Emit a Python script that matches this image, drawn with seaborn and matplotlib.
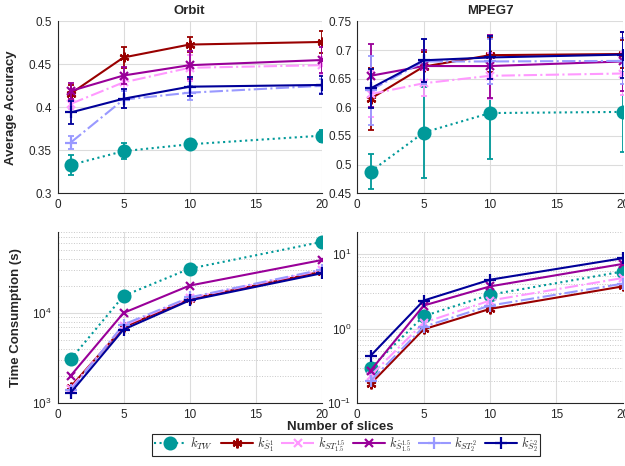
import numpy as np
import matplotlib
matplotlib.use("Agg")
import matplotlib.pyplot as plt
from matplotlib.lines import Line2D
from matplotlib.ticker import FormatStrFormatter, NullFormatter, LogLocator
import seaborn as sns

#Data
slices = [1, 5, 10, 20]
labels = [r'$k_{TW}$', r'$k_{\hat{S}_1^1}$', r'$k_{ST_{1.5}^{1.5}}$',
          r'$k_{\hat{S}_{1.5}^{1.5}}$', r'$k_{ST_2^2}$', r'$k_{\hat{S}_2^2}$']

#Orbit accuracy (mean, error)
orbit_acc = [[0.333, 0.349, 0.357, 0.367],
             [0.416, 0.458, 0.473, 0.476],
             [0.404, 0.429, 0.446, 0.449],
             [0.419, 0.437, 0.449, 0.455],
             [0.359, 0.409, 0.417, 0.425],
             [0.394, 0.410, 0.424, 0.426]]
orbit_err = [[0.012, 0.009, 0.005, 0.007],
             [0.010, 0.012, 0.009, 0.013],
             [0.006, 0.008, 0.015, 0.010],
             [0.009, 0.010, 0.016, 0.015],
             [0.008, 0.010, 0.008, 0.008],
             [0.013, 0.011, 0.011, 0.011]]

#MPEG7 accuracy
mpeg_acc = [[0.488, 0.556, 0.590, 0.592],
            [0.615, 0.671, 0.691, 0.693],
            [0.623, 0.642, 0.655, 0.659],
            [0.655, 0.672, 0.672, 0.680],
            [0.630, 0.680, 0.680, 0.681],
            [0.633, 0.682, 0.687, 0.692]]
mpeg_err = [[0.031, 0.079, 0.081, 0.070],
            [0.054, 0.026, 0.030, 0.025],
            [0.040, 0.023, 0.040, 0.038],
            [0.055, 0.028, 0.055, 0.052],
            [0.060, 0.040, 0.040, 0.040],
            [0.034, 0.037, 0.038, 0.040]]

#Time consumption (s)
orbit_time = [[3085, 15600, 31300, 62000],
              [1528, 7000, 14400, 29000],
              [1460, 7300, 14800, 30000],
              [2027, 10100, 20300, 39000],
              [1400, 7500, 15000, 30500],
              [1312, 6600, 13900, 27800]]
mpeg_time = [[0.297, 1.47, 2.85, 5.82],
             [0.182, 0.98, 1.84, 3.68],
             [0.235, 1.20, 2.38, 4.76],
             [0.274, 2.04, 3.68, 7.36],
             [0.200, 1.06, 2.04, 4.00],
             [0.433, 2.38, 4.52, 8.77]]

#Line styles per method
colors = ['#009999', '#990000', '#ff99ff', '#990099', '#9999ff', '#000099']
styles = [':', '-', '-.', '-', '-.', '-']
markers = ['o', (6, 2, 0), 'x', 'x', '+', '+']
msizes = [8.5, 7, 6, 6, 8, 8]

sns.set_style("white")
plt.rcParams['font.family'] = ['Liberation Sans', 'DejaVu Sans']
plt.rcParams['mathtext.fontset'] = 'cm'

fig = plt.figure(figsize=(6.25, 4.66), dpi=100)
ax_pos = [[0.092, 0.5852, 0.4224, 0.369], [0.5717, 0.5852, 0.4246, 0.369],
          [0.092, 0.1345, 0.4224, 0.3687], [0.5717, 0.1345, 0.4246, 0.3687]]
axs = [fig.add_axes(p) for p in ax_pos]

def draw(ax, data, err=None):
    for i in range(len(labels)):
        if err is not None:
            ax.errorbar(slices, data[i], yerr=err[i], fmt='none', ecolor=colors[i],
                        elinewidth=1.3, capsize=2, capthick=1.3, zorder=2 + i)
        sns.lineplot(x=slices, y=data[i], ax=ax, color=colors[i], linestyle=styles[i],
                     marker=markers[i], markersize=msizes[i], markeredgewidth=1.6,
                     markeredgecolor=colors[i], linewidth=1.5, zorder=2 + i)

def style_ax(ax):
    ax.set_xlim(0, 20)
    ax.set_xticks([0, 5, 10, 15, 20])
    ax.tick_params(direction='in', length=3, pad=4, labelsize=8.5, colors='#262626', width=0.8)
    ax.tick_params(which='minor', direction='in', length=1.5, width=0.6)
    for s in ['top', 'right']:
        ax.spines[s].set_visible(False)
    for s in ['left', 'bottom']:
        ax.spines[s].set_color('#262626')
        ax.spines[s].set_linewidth(0.8)
    ax.grid(True, which='major', color='#dcdcdc', linewidth=0.8)
    ax.set_xlabel('')
    ax.set_ylabel('')

draw(axs[0], orbit_acc, orbit_err)
draw(axs[1], mpeg_acc, mpeg_err)
draw(axs[2], orbit_time)
draw(axs[3], mpeg_time)

for ax in axs:
    style_ax(ax)

axs[0].set_ylim(0.3, 0.5)
axs[0].set_yticks(np.arange(0.3, 0.501, 0.05))
axs[1].set_ylim(0.45, 0.75)
axs[1].set_yticks(np.arange(0.45, 0.751, 0.05))
for ax in axs[:2]:
    ax.yaxis.set_major_formatter(FormatStrFormatter('%g'))

axs[2].set_yscale('log')
axs[2].set_ylim(1e3, 8.1e4)
axs[3].set_yscale('log')
axs[3].set_ylim(0.1, 20)
for ax in axs[2:]:
    ax.yaxis.set_minor_locator(LogLocator(base=10, subs=np.arange(2, 10)))
    ax.yaxis.set_minor_formatter(NullFormatter())
    ax.grid(True, which='minor', color='#c8c8c8', linestyle=':', linewidth=0.7)

axs[0].set_title('Orbit', fontsize=9.5, fontweight='bold', pad=5)
axs[1].set_title('MPEG7', fontsize=9.5, fontweight='bold', pad=5)
axs[0].set_ylabel('Average Accuracy', fontsize=9.5, fontweight='bold')
axs[0].yaxis.set_label_coords(-0.153, 0.5)
axs[2].set_ylabel('Time Consumption (s)', fontsize=9.5, fontweight='bold')
axs[2].yaxis.set_label_coords(-0.134, 0.5)
fig.text(0.544, 0.083, 'Number of slices', ha='center', va='center',
         fontsize=9.5, fontweight='bold')

handles = [Line2D([], [], color=colors[i], linestyle=styles[i], marker=markers[i],
                  markersize=msizes[i], markeredgewidth=1.6, linewidth=1.5)
           for i in range(len(labels))]
leg = fig.legend(handles, labels, loc='center', bbox_to_anchor=(0.5536, 0.046),
                 ncol=6, fontsize=9, handlelength=2.6, handletextpad=0.3,
                 columnspacing=0.6, borderpad=0.15, borderaxespad=0, fancybox=False,
                 framealpha=1, edgecolor='#262626')
leg.get_frame().set_linewidth(0.8)

fig.savefig('out.png', dpi=100)
